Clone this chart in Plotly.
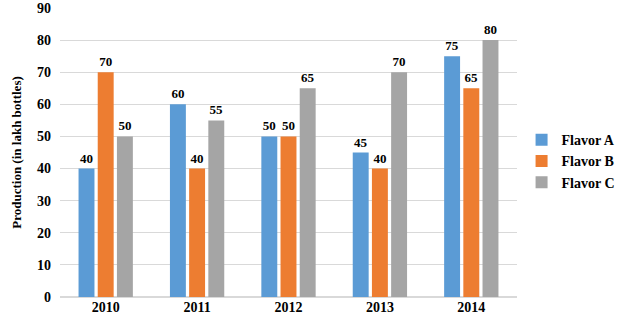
import plotly.graph_objects as go

years = ["2010", "2011", "2012", "2013", "2014"]
flavor_a = [40, 60, 50, 45, 75]
flavor_b = [70, 40, 50, 40, 65]
flavor_c = [50, 55, 65, 70, 80]
series_names = ["Flavor A", "Flavor B", "Flavor C"]
colors = ["#5B9BD5", "#ED7D31", "#A5A5A5"]

font_family = "Liberation Serif, Times New Roman, serif"

fig = go.Figure()
for name, vals, col in zip(series_names, [flavor_a, flavor_b, flavor_c], colors):
    fig.add_trace(go.Bar(
        x=years, y=vals, name="<b>" + name + "</b>", marker_color=col, marker_line_width=0,
        texttemplate="<b>%{y}</b>", textposition="outside", cliponaxis=False,
        textfont=dict(family=font_family, size=13, color="#000000"),
    ))

fig.update_layout(
    width=624, height=327,
    margin=dict(l=60, r=107, t=8, b=30, autoexpand=False),
    paper_bgcolor="white", plot_bgcolor="white",
    barmode="group", bargap=0.37, bargroupgap=0.17,
    font=dict(family=font_family, size=13, color="#000000"),
    legend=dict(x=1.01, y=0.47, yanchor="middle", xanchor="left",
                font=dict(family=font_family, size=14, color="#000000"),
                itemwidth=30, tracegroupgap=0),
)
fig.update_yaxes(range=[0, 90], dtick=10, showgrid=True, gridcolor="#D9D9D9",
                 gridwidth=1, zeroline=True, zerolinecolor="#D9D9D9",
                 showline=False, ticks="", ticklabelstandoff=8, automargin=False,
                 tickprefix="<b>", ticksuffix="</b>",
                 tickfont=dict(family=font_family, size=14, color="#000000"),
                 title=dict(text="<b>Production (in lakh bottles)</b>",
                            font=dict(family=font_family, size=13, color="#000000"),
                            standoff=12))
fig.update_xaxes(showline=False, ticks="", showgrid=False, automargin=False,
                 tickprefix="<b>", ticksuffix="</b>",
                 tickfont=dict(family=font_family, size=14, color="#000000"))

fig.write_html("out.html")
